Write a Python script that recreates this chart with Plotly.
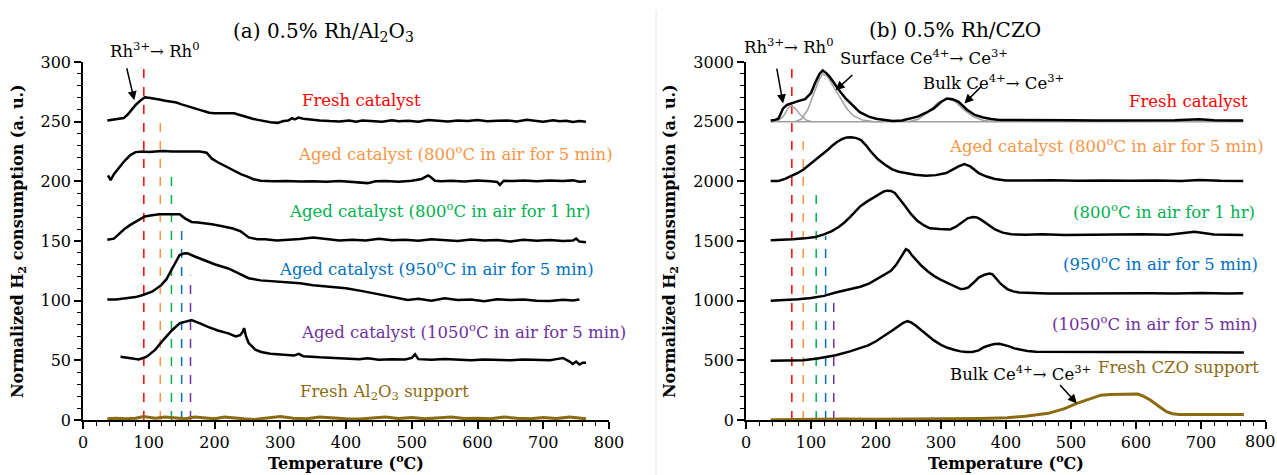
import plotly.graph_objects as go

# ---------------- Panel (a): 0.5% Rh/Al2O3 ----------------
a_fresh_T = [37,45,55,62,68,74,80,88,94,100,108,116,125,134,142,150,158,165,172,180,186,192,200,215,230,236,242,250,258,266,275,285,296,305,312,318,322,328,335,342,350,360,375,390,405,415,425,440,455,470,480,495,510,525,540,555,570,585,600,615,630,645,660,675,690,700,715,725,735,745,755,765]
a_fresh_V = [251,251.5,252,253,256,260,264,268,270.5,270,269.5,268.5,267.5,267,266,264.5,263,262,261,259.5,258.5,257.5,257,257,257,256,255,253.5,252.5,251.5,250.5,249.5,249,250.5,251,253,252,253.5,252.5,252,251.5,251,250.5,250.2,251,250,251,250.5,250,251.2,250.4,250.8,250,251.4,250.6,250.2,251,250.5,251.3,250.4,250.8,251,250.2,251.5,250.6,250,251.2,250.3,250.8,249.8,250.5,250]

a_800_5_T = [38,42,47,55,63,72,80,91,100,110,122,135,150,165,178,188,196,205,215,228,240,250,259,270,290,310,330,350,370,390,410,425,433,445,460,480,500,515,525,530,535,545,560,580,600,620,630,634,640,655,670,690,710,730,745,755,765]
a_800_5_V = [205,201,206,212,217,222,224.5,225,224.5,225,225.5,225,224.8,225,225,224,219,216,213,209.6,206,204,201.8,200.5,200,200.3,199.8,200,199.6,200.2,199.5,199,198.5,200,200.3,199.7,200.5,202,205,203,200.5,200,200.4,199.8,200.6,200,199.5,197,200.5,200.2,200.8,200,200.6,200.2,200.8,199.6,200]

a_800_1h_T = [37,47,55,63,72,80,94,105,116,130,147,155,165,175,185,196,210,228,240,252,265,277,295,310,330,350,370,390,410,430,450,470,490,510,530,550,570,590,610,630,650,670,690,710,730,745,750,755,765]
a_800_1h_V = [151,152,156,160,163.5,166,170.5,171.5,172.5,172.5,172.5,169,166,165.5,165,164,162.5,160.5,158,153,151.5,151.4,150.5,151,151.6,153,151.5,150.5,151,150.4,151.8,150.6,151,150.2,151.4,150.6,150,151.2,150.4,150.8,149.6,151,150.2,150.8,150,150.4,152,149.5,149]

a_950_T = [37,50,65,80,91,105,119,127,134.5,141,147,153,159,170,184,200,221,237,252,270,290,307,330,350,370,400,425,450,468,480,494,510,530,550,570,590,610,630,650,670,690,710,730,745,755]
a_950_V = [101,101,102,103,104.8,107.5,113,118,125.7,133,138.3,139.5,139.7,137,134,130.5,127,123,118.8,117,116.2,116,114.5,113,112,110.4,108,105.5,103.4,102,100.5,101.5,100,102,100.5,101,99.5,101.2,100.6,101,100,99.8,100.8,100.2,101]

a_1050_T = [57,70,85,97,110,122,135,147,155,165,178,190,205,221,232,239,243,245,248,252,262,271,285,300,321,328,335,360,390,420,433,450,470,490,500,505,510,530,550,570,590,610,630,650,670,690,710,720,730,740,745,750,755,760,765]
a_1050_V = [53,52,50.8,53,59,67,75,81,82.5,83.8,81,78,75,72.6,70,71,74,77,70,64.5,59,57,55.5,55,54,55.5,53.5,52.5,51.5,51,51.7,50.5,51,50.8,52,55,51,50.5,51.2,50.4,50,50.8,50.2,50,50.6,50.2,50,51,52,49,47,49,46.5,48,48]

a_support_T = [37,50,65,80,92,100,110,125,140,155,170,185,200,215,230,245,260,280,300,320,340,360,380,400,420,440,460,480,500,520,540,560,580,600,620,640,660,680,700,720,740,765]
a_support_V = [1,1.5,1,1.5,3,2.5,1.5,2.5,2,1,2.5,1.5,1,2.5,1.5,1,0.5,1.5,3,1.5,1,2.5,1.5,1,0.8,1.5,2.5,1.2,2,1,1.8,2.5,1.2,1.5,1,2.5,1.5,1,2,1.2,2.5,1]

a_dash_T = [92.5, 117.5, 134.5, 150, 163.5]
a_dash_top = [296, 251, 205, 163, 121]

# ---------------- Panel (b): 0.5% Rh/CZO ----------------
b_fresh_T = [38,45,50,57,63,69,80,91,100,107,113,118,124,129,137,145,154,163,175,189,200,214,226,240,252,264,277,289,300,309,318,327,340,352,365,377,390,402,430,460,500,540,580,620,660,697,720,745,765]
b_fresh_V = [2510,2515,2527,2611,2640,2653,2672,2689,2740,2833,2900,2930,2905,2875,2810,2750,2690,2639,2580,2542,2525,2514,2505,2510,2525,2542,2575,2611,2665,2694,2688,2667,2600,2556,2535,2522,2515,2514,2512,2510,2511,2510,2512,2510,2511,2520,2511,2510,2510]

b_pk1_T = [40,50,58,65,70,76,84,92,100]
b_pk1_V = [2500,2510,2550,2615,2630,2610,2555,2515,2502]
b_pk2_T = [75,85,95,105,113,118,125,135,145,155,165,178,195,210]
b_pk2_V = [2500,2520,2600,2740,2860,2900,2880,2790,2700,2610,2550,2515,2502,2500]
b_pk3_T = [250,265,280,295,310,322,335,350,365,385]
b_pk3_V = [2500,2520,2580,2660,2690,2670,2600,2540,2510,2500]
b_base_T = [38, 765]
b_base_V = [2500, 2500]

b_800_5_T = [38,50,60,70,79,88,97,107,116,125,133,140,148,155,162,170,177,185,192,203,214,225,235,245,260,277,292,308,318,327,336,345,358,370,383,400,433,470,510,550,590,630,670,697,730,765]
b_800_5_V = [2002,2003,2020,2042,2068,2097,2135,2181,2220,2260,2300,2330,2355,2368,2370,2362,2345,2300,2250,2185,2139,2100,2080,2069,2055,2047,2052,2069,2100,2125,2144,2125,2069,2040,2019,2008,2006,2010,2005,2008,2004,2007,2003,2012,2004,2002]

b_800_1h_T = [38,55,72,90,107,120,132,142,151,160,168,176,186,195,205,212,217,223,229,237,245,254,264,274,283,298,314,323,333,341,349,355,361,372,383,395,408,430,456,490,530,570,610,650,690,720,765]
b_800_1h_V = [1506,1508,1514,1522,1533,1555,1583,1615,1653,1700,1750,1792,1830,1861,1895,1915,1922,1920,1903,1850,1792,1725,1667,1630,1606,1600,1597,1620,1661,1690,1700,1698,1681,1640,1597,1570,1556,1552,1556,1550,1553,1550,1556,1552,1578,1555,1550]

b_950_T = [38,60,80,100,120,138,157,176,190,201,212,223,231,239,246,250,254,262,270,280,289,300,314,322,330,336,342,350,358,366,374,379,383,392,402,411,420,440,464,500,540,580,620,660,700,740,765]
b_950_V = [1000,1005,1012,1022,1040,1069,1090,1117,1145,1181,1215,1250,1300,1375,1431,1420,1389,1340,1292,1245,1208,1175,1139,1118,1097,1100,1111,1150,1194,1215,1228,1222,1194,1140,1097,1078,1069,1063,1061,1060,1062,1058,1063,1060,1064,1060,1062]

b_1050_T = [38,60,88,110,138,160,188,200,214,225,236,242,248,254,261,270,280,289,300,310,320,330,339,348,358,366,374,382,390,398,405,413,421,433,446,480,520,560,600,640,680,720,766]
b_1050_V = [497,498,500,515,542,575,625,660,708,750,792,815,828,818,792,750,705,667,630,605,589,575,569,570,583,610,625,636,639,630,617,600,589,578,572,570,571,569,570,568,569,566,565]

b_support_T = [38,60,88,119,150,200,250,276,320,360,402,430,465,490,509,530,546,560,575,590,603,612,622,635,647,656,666,690,720,766]
b_support_V = [3,5,8,10,8,7,8,8,10,13,19,32,56,95,139,180,208,213,215,217,217,198,167,115,69,52,47,46,47,47]

b_dash_T = [70.5, 88, 108, 122.5, 135]
b_dash_top = [2967, 2361, 1950, 1542, 1033]

x_ticks = [0, 100, 200, 300, 400, 500, 600, 700, 800]
x_ticktext_b = ["0", "100", "200", "300", "400", "500", "600", "700", ""]

for t, v in [(a_fresh_T, a_fresh_V), (a_800_5_T, a_800_5_V), (a_800_1h_T, a_800_1h_V),
             (a_950_T, a_950_V), (a_1050_T, a_1050_V), (a_support_T, a_support_V),
             (b_fresh_T, b_fresh_V), (b_pk1_T, b_pk1_V), (b_pk2_T, b_pk2_V), (b_pk3_T, b_pk3_V),
             (b_800_5_T, b_800_5_V), (b_800_1h_T, b_800_1h_V), (b_950_T, b_950_V),
             (b_1050_T, b_1050_V), (b_support_T, b_support_V)]:
    assert len(t) == len(v), (len(t), len(v))

DASH_COLORS = ["#FF0000", "#F79646", "#00B050", "#0070C0", "#7030A0"]
BROWN = "#8C6A12"
FONT = "DejaVu Serif"
LBL = 16.5

fig = go.Figure()

def line(x, y, xa, ya, color="black", width=2.5):
    fig.add_trace(go.Scatter(x=x, y=y, mode="lines", xaxis=xa, yaxis=ya,
                             line=dict(color=color, width=width), showlegend=False,
                             hoverinfo="skip"))

# panel a
for T, top, c in zip(a_dash_T, a_dash_top, DASH_COLORS):
    fig.add_trace(go.Scatter(x=[T, T], y=[0, top], mode="lines", xaxis="x", yaxis="y",
                             line=dict(color=c, width=1.5, dash="dash"), showlegend=False))
line(a_fresh_T, a_fresh_V, "x", "y")
line(a_800_5_T, a_800_5_V, "x", "y")
line(a_800_1h_T, a_800_1h_V, "x", "y")
line(a_950_T, a_950_V, "x", "y")
line(a_1050_T, a_1050_V, "x", "y")
line(a_support_T, a_support_V, "x", "y", BROWN, 3)

# panel b
for T, top, c in zip(b_dash_T, b_dash_top, DASH_COLORS):
    fig.add_trace(go.Scatter(x=[T, T], y=[0, top], mode="lines", xaxis="x2", yaxis="y2",
                             line=dict(color=c, width=1.5, dash="dash"), showlegend=False))
line(b_base_T, b_base_V, "x2", "y2", "#A0A0A0", 1.5)
line(b_pk1_T, b_pk1_V, "x2", "y2", "#A0A0A0", 1.5)
line(b_pk2_T, b_pk2_V, "x2", "y2", "#A0A0A0", 1.5)
line(b_pk3_T, b_pk3_V, "x2", "y2", "#A0A0A0", 1.5)
line(b_fresh_T, b_fresh_V, "x2", "y2")
line(b_800_5_T, b_800_5_V, "x2", "y2")
line(b_800_1h_T, b_800_1h_V, "x2", "y2")
line(b_950_T, b_950_V, "x2", "y2")
line(b_1050_T, b_1050_V, "x2", "y2")
line(b_support_T, b_support_V, "x2", "y2", BROWN, 3)

W, H = 1277, 475
xd1 = [83 / W, 609 / W]
xd2 = [746 / W, 1266 / W]
yd = [55 / H, 413 / H]

axis_common = dict(showgrid=False, zeroline=False, showline=True, linecolor="black",
                   ticks="outside", tickcolor="black", tickwidth=1.5, automargin=False,
                   ticklabeloverflow="allow",
                   tickfont=dict(family=FONT, size=16, color="black"))

fig.update_layout(
    template="none",
    width=W, height=H, margin=dict(l=0, r=0, t=0, b=0, autoexpand=False),
    plot_bgcolor="white", paper_bgcolor="white",
    font=dict(family=FONT, color="black"),
    xaxis=dict(domain=xd1, anchor="y", range=[0, 800], tickvals=x_ticks, ticklen=7, linewidth=2,
               minor=dict(dtick=20, ticks="outside", ticklen=4, tickcolor="black", tickwidth=1.2),
               **axis_common),
    yaxis=dict(domain=yd, anchor="x", range=[0, 300], dtick=50, ticklen=7, linewidth=1.5,
               minor=dict(dtick=10, ticks="outside", ticklen=4, tickcolor="black", tickwidth=1.2),
               **axis_common),
    xaxis2=dict(domain=xd2, anchor="y2", range=[0, 800], tickvals=x_ticks, ticktext=x_ticktext_b,
                ticklen=7, linewidth=2,
                minor=dict(dtick=20, ticks="outside", ticklen=4, tickcolor="black", tickwidth=1.2),
                **axis_common),
    yaxis2=dict(domain=yd, anchor="x2", range=[0, 3000], dtick=500, ticklen=7, linewidth=1.5,
                minor=dict(dtick=100, ticks="outside", ticklen=4, tickcolor="black", tickwidth=1.2),
                **axis_common),
)

def txt(x, y, text, color="black", size=LBL, xref="x", yref="y", xanchor="center", **kw):
    fig.add_annotation(x=x, y=y, xref=xref, yref=yref, text=text, showarrow=False,
                       xanchor=xanchor, yanchor="middle",
                       font=dict(family=FONT, size=size, color=color), **kw)

def ptxt(px, py, text, color="black", size=LBL, **kw):
    txt(px / W, 1 - py / H, text, color, size, xref="paper", yref="paper", **kw)

def arrow(x, y, ax, ay, xref="x", yref="y"):
    fig.add_annotation(x=x, y=y, ax=ax, ay=ay, xref=xref, yref=yref,
                       axref=xref, ayref=yref, text="", showarrow=True,
                       arrowhead=2, arrowsize=1.2, arrowwidth=1.5, arrowcolor="black")

# last tick label of panel b kept inside the page
ptxt(1277, 441, str(x_ticks[-1]), size=16, xanchor="right", borderpad=0)

# titles
ptxt(323, 32, "(a) 0.5% Rh/Al<sub>2</sub>O<sub>3</sub>", size=20)
ptxt(955, 30, "(b) 0.5% Rh/CZO", size=20)

# axis titles
for xc in (346, 1006):
    ptxt(xc, 462, "<b>Temperature (<sup>o</sup>C)</b>", size=16)
for xc in (18, 670):
    ptxt(xc, 241, "<b>Normalized H<sub>2</sub> consumption (a. u.)</b>", size=16, textangle=-90)

# panel a labels
ptxt(155, 50, "Rh<sup>3+</sup>→ Rh<sup>0</sup>")
arrow(78, 268, 66, 296)
txt(423, 268, "Fresh catalyst", DASH_COLORS[0])
txt(566, 224, "Aged catalyst (800<sup>o</sup>C in air for 5 min)", DASH_COLORS[1])
txt(543, 176, "Aged catalyst (800<sup>o</sup>C in air for 1 hr)", DASH_COLORS[2])
txt(538, 127, "Aged catalyst (950<sup>o</sup>C in air for 5 min)", DASH_COLORS[3])
txt(578, 75, "Aged catalyst (1050<sup>o</sup>C in air for 5 min)", DASH_COLORS[4])
txt(458, 23, "Fresh Al<sub>2</sub>O<sub>3</sub> support", BROWN)

# panel b labels
ptxt(789, 46, "Rh<sup>3+</sup>→ Rh<sup>0</sup>")
arrow(57, 2653, 47, 2958, "x2", "y2")
ptxt(924, 57, "Surface Ce<sup>4+</sup>→ Ce<sup>3+</sup>")
arrow(138, 2764, 166, 2903, "x2", "y2")
txt(380, 2833, "Bulk Ce<sup>4+</sup>→ Ce<sup>3+</sup>", xref="x2", yref="y2")
arrow(336, 2653, 364, 2806, "x2", "y2")
txt(680, 2667, "Fresh catalyst", DASH_COLORS[0], xref="x2", yref="y2")
txt(554, 2306, "Aged catalyst (800<sup>o</sup>C in air for 5 min)", DASH_COLORS[1], xref="x2", yref="y2")
txt(643, 1750, "(800<sup>o</sup>C in air for 1 hr)", DASH_COLORS[2], xref="x2", yref="y2")
txt(638, 1319, "(950<sup>o</sup>C in air for 5 min)", DASH_COLORS[3], xref="x2", yref="y2")
txt(629, 811, "(1050<sup>o</sup>C in air for 5 min)", DASH_COLORS[4], xref="x2", yref="y2")
txt(422, 392, "Bulk Ce<sup>4+</sup>→ Ce<sup>3+</sup>", xref="x2", yref="y2")
txt(665, 444, "Fresh CZO support", BROWN, xref="x2", yref="y2")
arrow(509, 139, 481, 306, "x2", "y2")

# separator between panels
fig.add_shape(type="line", xref="paper", yref="paper", x0=656 / W, x1=656 / W,
              y0=0, y1=1 - 10 / H, line=dict(color="#E6E6E6", width=1))

fig.write_html("out.html", config={"displayModeBar": False},
               post_script="document.body.style.margin='0';")
